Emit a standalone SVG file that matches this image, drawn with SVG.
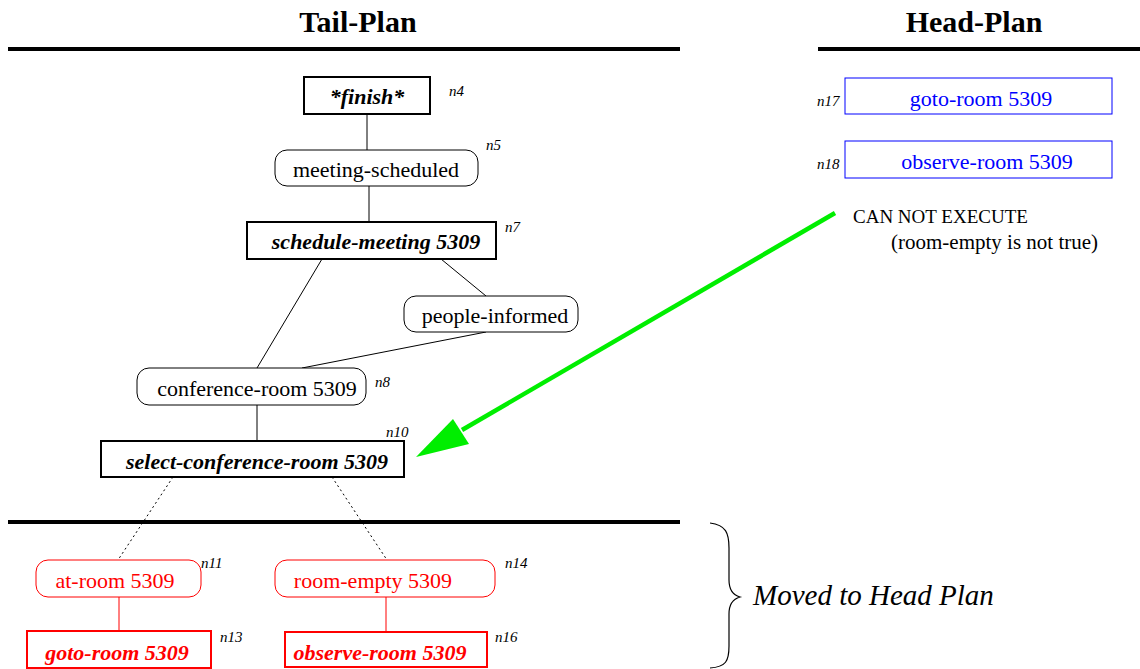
<svg xmlns="http://www.w3.org/2000/svg" width="1140" height="669" viewBox="0 0 1140 669">
  <defs>
    <style>
      text { font-family: "Liberation Serif", "Times New Roman", serif; }
      .title { font-size: 30px; font-weight: bold; text-anchor: middle; }
      .rule { stroke: #000; stroke-width: 4; }
      .op { fill: #fff; stroke: #000; stroke-width: 2; }
      .cond { fill: #fff; stroke: #000; stroke-width: 1; }
      .optext { font-size: 22px; font-weight: bold; font-style: italic; text-anchor: middle; }
      .condtext { font-size: 22px; text-anchor: middle; }
      .id { font-size: 15px; font-style: italic; }
      .link { stroke: #000; stroke-width: 1; fill: none; }
      .dotted { stroke: #000; stroke-width: 1; stroke-dasharray: 2 3; fill: none; }
      .red-cond { fill: #fff; stroke: #ff0000; stroke-width: 1; }
      .red-op { fill: #fff; stroke: #ff0000; stroke-width: 2; }
      .red-text { fill: #ff0000; }
      .red-link { stroke: #ff0000; stroke-width: 1; }
      .head-op { fill: #fff; stroke: #0000ff; stroke-width: 1; }
      .head-text { font-size: 22px; fill: #0000ff; text-anchor: middle; }
    </style>
  </defs>

  <rect width="1140" height="669" fill="#fff"/>

  <!-- section headers and separator rules -->
  <text class="title" x="358" y="32">Tail-Plan</text>
  <text class="title" x="974" y="32">Head-Plan</text>
  <line class="rule" x1="8" y1="49" x2="680" y2="49"/>
  <line class="rule" x1="818" y1="49" x2="1140" y2="49"/>
  <line class="rule" x1="8" y1="522" x2="680" y2="522"/>

  <!-- connectors -->
  <g id="connectors">
    <line class="link" x1="367" y1="114" x2="367" y2="150"/>
    <line class="link" x1="369" y1="186" x2="369" y2="222"/>
    <line class="link" x1="322" y1="259" x2="257" y2="368"/>
    <line class="link" x1="441" y1="259" x2="486" y2="296"/>
    <line class="link" x1="486" y1="332" x2="302" y2="368"/>
    <line class="link" x1="257" y1="405" x2="257" y2="440"/>
    <line class="dotted" x1="173" y1="477" x2="118" y2="560"/>
    <line class="dotted" x1="332" y1="477" x2="387" y2="560"/>
    <line class="red-link" x1="119" y1="597" x2="119" y2="631"/>
    <line class="red-link" x1="386" y1="597" x2="386" y2="631"/>
    <!-- failure pointer -->
    <line x1="835" y1="213" x2="462" y2="430" stroke="#00ee00" stroke-width="4.5"/>
    <path d="M416,457 L453,419 L469,444 Z" fill="#00ee00"/>
  </g>

  <!-- tail plan nodes -->
  <g id="n4">
    <rect class="op" x="304" y="77" width="126" height="37"/>
    <text class="optext" x="367" y="104">*finish*</text>
    <text class="id" x="449" y="96">n4</text>
  </g>
  <g id="n5">
    <rect class="cond" x="275" y="150" width="203" height="36" rx="12"/>
    <text class="condtext" x="376" y="177">meeting-scheduled</text>
    <text class="id" x="486" y="150">n5</text>
  </g>
  <g id="n7">
    <rect class="op" x="247" y="222" width="249" height="37"/>
    <text class="optext" x="376" y="249">schedule-meeting 5309</text>
    <text class="id" x="505" y="232">n7</text>
  </g>
  <g id="people-informed">
    <rect class="cond" x="404" y="296" width="174" height="36" rx="12"/>
    <text class="condtext" x="495" y="323">people-informed</text>
  </g>
  <g id="n8">
    <rect class="cond" x="137" y="368" width="229" height="37" rx="12"/>
    <text class="condtext" x="257" y="396">conference-room 5309</text>
    <text class="id" x="375" y="387">n8</text>
  </g>
  <g id="n10">
    <rect class="op" x="101" y="441" width="303" height="36"/>
    <text class="optext" x="257" y="469">select-conference-room 5309</text>
    <text class="id" x="386" y="437">n10</text>
  </g>

  <!-- subtree moved to the head plan -->
  <g id="n11">
    <rect class="red-cond" x="36" y="560" width="165" height="37" rx="12"/>
    <text class="condtext red-text" x="115" y="588">at-room 5309</text>
    <text class="id" x="201" y="568">n11</text>
  </g>
  <g id="n13">
    <rect class="red-op" x="27" y="631" width="184" height="37"/>
    <text class="optext red-text" x="117" y="660">goto-room 5309</text>
    <text class="id" x="220" y="642">n13</text>
  </g>
  <g id="n14">
    <rect class="red-cond" x="275" y="560" width="220" height="37" rx="12"/>
    <text class="condtext red-text" x="373" y="588">room-empty 5309</text>
    <text class="id" x="505" y="568">n14</text>
  </g>
  <g id="n16">
    <rect class="red-op" x="285" y="632" width="202" height="35" stroke-width="3.5"/>
    <text class="optext red-text" x="380" y="660">observe-room 5309</text>
    <text class="id" x="495" y="642">n16</text>
  </g>

  <!-- head plan nodes -->
  <g id="n17">
    <rect class="head-op" x="845" y="78" width="267" height="36"/>
    <text class="head-text" x="981" y="106">goto-room 5309</text>
    <text class="id" x="817" y="106">n17</text>
  </g>
  <g id="n18">
    <rect class="head-op" x="845" y="141" width="267" height="37"/>
    <text class="head-text" x="987" y="169">observe-room 5309</text>
    <text class="id" x="817" y="169">n18</text>
  </g>

  <!-- failure note -->
  <text x="853" y="223" font-size="19">CAN NOT EXECUTE</text>
  <text x="891" y="249" font-size="21">(room-empty is not true)</text>

  <!-- brace with caption -->
  <path d="M710,523 C726,525 729,533 729,548 L729,580 C729,590 733,595 740,597 C733,599 729,604 729,614 L729,646 C729,661 726,667 710,668" fill="none" stroke="#000" stroke-width="1.2"/>
  <text x="753" y="605" font-size="29" font-style="italic">Moved to Head Plan</text>
</svg>
